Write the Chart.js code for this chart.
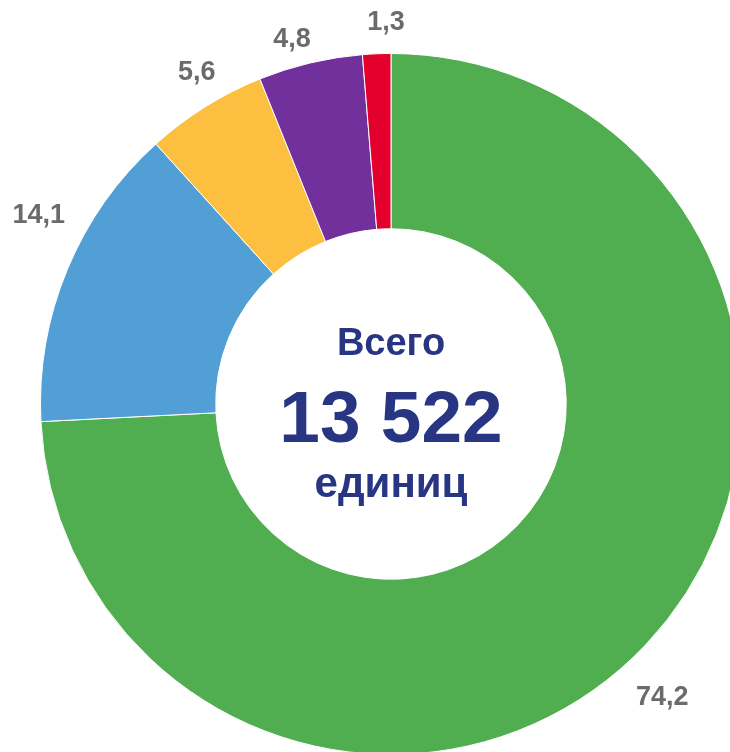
<!DOCTYPE html>
<html>
<head>
<meta charset="utf-8">
<script src="https://cdn.jsdelivr.net/npm/chart.js@4/dist/chart.umd.min.js"></script>
<style>
  html, body { margin:0; padding:0; background:#fff; overflow:hidden; }
  #wrap { position:absolute; left:0; top:0; width:782px; height:808px; }
</style>
</head>
<body>
<div id="wrap"><canvas id="ring"></canvas></div>
<script>
// ----- data -----
const shares = [74.2, 14.1, 5.6, 4.8, 1.3];
const sliceColors = ["#50ae50", "#529fd6", "#fdbf40", "#72309c", "#e3002c"];
const centerLines = ["Всего", "13 522", "единиц"];

// label placement: angle nudge (deg) from slice middle, radius as share of outer radius
const labelNudge = [3.7, 5.7, 1.7, -1.9, 1.6];
const labelRadius = [1.14, 1.14, 1.097, 1.077, 1.088];

const fmt = v => v.toFixed(1).replace(".", ",");

// ----- outside labels -----
const outerLabels = {
  id: "outerLabels",
  afterDatasetsDraw(chart){
    const ctx = chart.ctx;
    const arcs = chart.getDatasetMeta(0).data;
    ctx.save();
    ctx.font = "bold 27px 'Liberation Sans', Arial, sans-serif";
    ctx.fillStyle = "#6b6b6b";
    ctx.textAlign = "center";
    ctx.textBaseline = "middle";
    arcs.forEach((arc, i)=>{
      const mid = (arc.startAngle + arc.endAngle)/2 + labelNudge[i]*Math.PI/180;
      const r = arc.outerRadius * labelRadius[i];
      ctx.fillText(fmt(shares[i]), arc.x + r*Math.cos(mid), arc.y + r*Math.sin(mid));
    });
    ctx.restore();
  }
};

// ----- center text -----
const centerText = {
  id: "centerText",
  afterDatasetsDraw(chart){
    const ctx = chart.ctx;
    const arc = chart.getDatasetMeta(0).data[0];
    ctx.save();
    ctx.fillStyle = "#283583";
    ctx.textAlign = "center";
    ctx.textBaseline = "alphabetic";
    ctx.font = "bold 38px 'Liberation Sans', Arial, sans-serif";
    ctx.fillText(centerLines[0], arc.x, arc.y - 49);
    ctx.font = "bold 73px 'Liberation Sans', Arial, sans-serif";
    ctx.fillText(centerLines[1], arc.x, arc.y + 38);
    ctx.font = "bold 42px 'Liberation Sans', Arial, sans-serif";
    ctx.fillText(centerLines[2], arc.x, arc.y + 93);
    ctx.restore();
  }
};

new Chart(document.getElementById("ring"), {
  type: "doughnut",
  data: {
    labels: shares.map(fmt),
    datasets: [{ data: shares, backgroundColor: sliceColors, borderColor: "#ffffff", borderWidth: 1 }]
  },
  options: {
    responsive: true,
    maintainAspectRatio: false,
    animation: false,
    cutout: "50%",
    layout: { padding: { left: 40, top: 53, right: 40, bottom: 53 } },
    plugins: { legend: { display: false }, tooltip: { enabled: false } }
  },
  plugins: [outerLabels, centerText]
});
</script>
</body>
</html>
